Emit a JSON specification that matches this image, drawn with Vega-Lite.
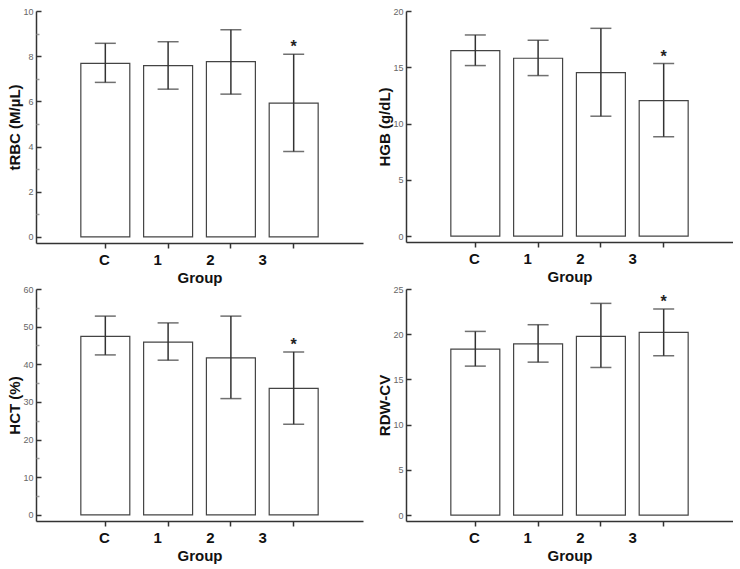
{
  "$schema": "https://vega.github.io/schema/vega-lite/v6.json",
  "background": "white",
  "padding": {"left": 7, "top": 7, "right": 0, "bottom": 5},
  "columns": 2,
  "spacing": {"column": 14, "row": 0},
  "datasets": {
    "p1": [
      {"group": "C", "mean": 7.68, "lo": 6.84, "hi": 8.57, "sig": ""},
      {"group": "1", "mean": 7.58, "lo": 6.54, "hi": 8.64, "sig": ""},
      {"group": "2", "mean": 7.76, "lo": 6.32, "hi": 9.17, "sig": ""},
      {"group": "3", "mean": 5.92, "lo": 3.78, "hi": 8.09, "sig": "*"}
    ],
    "p2": [
      {"group": "C", "mean": 16.48, "lo": 15.15, "hi": 17.87, "sig": ""},
      {"group": "1", "mean": 15.80, "lo": 14.26, "hi": 17.40, "sig": ""},
      {"group": "2", "mean": 14.53, "lo": 10.65, "hi": 18.46, "sig": ""},
      {"group": "3", "mean": 12.04, "lo": 8.82, "hi": 15.33, "sig": "*"}
    ],
    "p3": [
      {"group": "C", "mean": 47.4, "lo": 42.5, "hi": 52.8, "sig": ""},
      {"group": "1", "mean": 45.9, "lo": 41.1, "hi": 51.0, "sig": ""},
      {"group": "2", "mean": 41.7, "lo": 30.9, "hi": 52.8, "sig": ""},
      {"group": "3", "mean": 33.6, "lo": 24.1, "hi": 43.3, "sig": "*"}
    ],
    "p4": [
      {"group": "C", "mean": 18.35, "lo": 16.47, "hi": 20.31, "sig": ""},
      {"group": "1", "mean": 18.94, "lo": 16.91, "hi": 21.05, "sig": ""},
      {"group": "2", "mean": 19.76, "lo": 16.32, "hi": 23.41, "sig": ""},
      {"group": "3", "mean": 20.2, "lo": 17.61, "hi": 22.78, "sig": "*"}
    ]
  },
  "config": {
    "font": "Liberation Sans",
    "view": {"stroke": null},
    "axis": {
      "grid": false,
      "domainColor": "#333333",
      "domainWidth": 1.5,
      "tickColor": "#333333",
      "tickWidth": 1.5,
      "titleFont": "Liberation Sans",
      "titleFontWeight": "bold",
      "titleFontSize": 15,
      "titleColor": "#111111"
    },
    "axisX": {
      "labelAngle": 0,
      "labelFontSize": 15,
      "labelFontWeight": "bold",
      "labelColor": "#111111",
      "labelPadding": 4,
      "tickSize": 5,
      "titlePadding": 3,
      "labelOffset": {
        "condition": [
          {"test": "datum.value == '1'", "value": -10.5},
          {"test": "datum.value == '2'", "value": -20.5},
          {"test": "datum.value == '3'", "value": -31}
        ],
        "value": -1
      }
    },
    "axisY": {
      "labelFontSize": 9,
      "labelColor": "#666666",
      "labelPadding": 3,
      "labelOverlap": false,
      "titlePadding": 0
    },
    "scale": {"bandPaddingInner": 0.22, "bandPaddingOuter": 0.714}
  },
  "concat": [
    {
      "width": 327, "height": 232,
      "data": {"name": "p1"},
      "resolve": {"axis": {"y": "independent"}},
      "encoding": {
        "x": {"field": "group", "type": "nominal", "sort": ["C", "1", "2", "3"], "title": "Group"}
      },
      "layer": [
        {
          "mark": {"type": "bar", "fill": "white", "stroke": "#444444", "strokeWidth": 1.2},
          "encoding": {
            "y": {"field": "mean", "type": "quantitative", "title": "tRBC (M/µL)",
              "scale": {"domain": [-0.27, 10], "nice": false, "zero": false},
              "axis": {"orient": "left", "values": [0, 2, 4, 6, 8, 10], "ticks": false}
            },
            "y2": {"datum": 0}
          }
        },
        {"mark": {"type": "rule", "stroke": "#333333", "strokeWidth": 1.5}, "encoding": {
          "y": {"field": "lo", "type": "quantitative", "axis": {"orient": "left", "offset": -5, "values": [0, 2, 4, 6, 8, 10], "tickSize": 5, "domain": false, "labels": false, "title": null}},
          "y2": {"field": "hi"}}},
        {"mark": {"type": "tick", "color": "#333333", "thickness": 1.5, "size": 21, "orient": "horizontal"}, "encoding": {
          "y": {"field": "lo", "type": "quantitative", "axis": {"orient": "left", "offset": -3, "values": [1, 3, 5, 7, 9], "tickSize": 3, "tickColor": "#999999", "domain": false, "labels": false, "title": null}}}},
        {"mark": {"type": "tick", "color": "#333333", "thickness": 1.5, "size": 21, "orient": "horizontal"}, "encoding": {"y": {"field": "hi", "type": "quantitative", "axis": null}}},
        {"mark": {"type": "text", "fontSize": 16, "fontWeight": "bold", "color": "#222222", "baseline": "alphabetic", "dy": -2}, "encoding": {"y": {"field": "hi", "type": "quantitative", "axis": null}, "text": {"field": "sig"}}}
      ]
    },
    {
      "width": 327, "height": 231,
      "data": {"name": "p2"},
      "resolve": {"axis": {"y": "independent"}},
      "encoding": {
        "x": {"field": "group", "type": "nominal", "sort": ["C", "1", "2", "3"], "title": "Group"}
      },
      "layer": [
        {
          "mark": {"type": "bar", "fill": "white", "stroke": "#444444", "strokeWidth": 1.2},
          "encoding": {
            "y": {"field": "mean", "type": "quantitative", "title": "HGB (g/dL)",
              "scale": {"domain": [-0.53, 20], "nice": false, "zero": false},
              "axis": {"orient": "left", "values": [0, 5, 10, 15, 20], "ticks": false}
            },
            "y2": {"datum": 0}
          }
        },
        {"mark": {"type": "rule", "stroke": "#333333", "strokeWidth": 1.5}, "encoding": {
          "y": {"field": "lo", "type": "quantitative", "axis": {"orient": "left", "offset": -5, "values": [0, 5, 10, 15, 20], "tickSize": 5, "domain": false, "labels": false, "title": null}},
          "y2": {"field": "hi"}}},
        {"mark": {"type": "tick", "color": "#333333", "thickness": 1.5, "size": 21, "orient": "horizontal"}, "encoding": {"y": {"field": "lo", "type": "quantitative", "axis": null}}},
        {"mark": {"type": "tick", "color": "#333333", "thickness": 1.5, "size": 21, "orient": "horizontal"}, "encoding": {"y": {"field": "hi", "type": "quantitative", "axis": null}}},
        {"mark": {"type": "text", "fontSize": 16, "fontWeight": "bold", "color": "#222222", "baseline": "alphabetic", "dy": -2}, "encoding": {"y": {"field": "hi", "type": "quantitative", "axis": null}, "text": {"field": "sig"}}}
      ]
    },
    {
      "width": 327, "height": 232,
      "data": {"name": "p3"},
      "resolve": {"axis": {"y": "independent"}},
      "encoding": {
        "x": {"field": "group", "type": "nominal", "sort": ["C", "1", "2", "3"], "title": "Group"}
      },
      "layer": [
        {
          "mark": {"type": "bar", "fill": "white", "stroke": "#444444", "strokeWidth": 1.2},
          "encoding": {
            "y": {"field": "mean", "type": "quantitative", "title": "HCT (%)",
              "scale": {"domain": [-1.6, 60], "nice": false, "zero": false},
              "axis": {"orient": "left", "values": [0, 10, 20, 30, 40, 50, 60], "ticks": false}
            },
            "y2": {"datum": 0}
          }
        },
        {"mark": {"type": "rule", "stroke": "#333333", "strokeWidth": 1.5}, "encoding": {
          "y": {"field": "lo", "type": "quantitative", "axis": {"orient": "left", "offset": -5, "values": [0, 10, 20, 30, 40, 50, 60], "tickSize": 5, "domain": false, "labels": false, "title": null}},
          "y2": {"field": "hi"}}},
        {"mark": {"type": "tick", "color": "#333333", "thickness": 1.5, "size": 21, "orient": "horizontal"}, "encoding": {
          "y": {"field": "lo", "type": "quantitative", "axis": {"orient": "left", "offset": -3, "values": [5, 15, 25, 35, 45, 55], "tickSize": 3, "tickColor": "#999999", "domain": false, "labels": false, "title": null}}}},
        {"mark": {"type": "tick", "color": "#333333", "thickness": 1.5, "size": 21, "orient": "horizontal"}, "encoding": {"y": {"field": "hi", "type": "quantitative", "axis": null}}},
        {"mark": {"type": "text", "fontSize": 16, "fontWeight": "bold", "color": "#222222", "baseline": "alphabetic", "dy": -2}, "encoding": {"y": {"field": "hi", "type": "quantitative", "axis": null}, "text": {"field": "sig"}}}
      ]
    },
    {
      "width": 327, "height": 232,
      "data": {"name": "p4"},
      "resolve": {"axis": {"y": "independent"}},
      "encoding": {
        "x": {"field": "group", "type": "nominal", "sort": ["C", "1", "2", "3"], "title": "Group"}
      },
      "layer": [
        {
          "mark": {"type": "bar", "fill": "white", "stroke": "#444444", "strokeWidth": 1.2},
          "encoding": {
            "y": {"field": "mean", "type": "quantitative", "title": "RDW-CV",
              "scale": {"domain": [-0.66, 25], "nice": false, "zero": false},
              "axis": {"orient": "left", "values": [0, 5, 10, 15, 20, 25], "ticks": false}
            },
            "y2": {"datum": 0}
          }
        },
        {"mark": {"type": "rule", "stroke": "#333333", "strokeWidth": 1.5}, "encoding": {
          "y": {"field": "lo", "type": "quantitative", "axis": {"orient": "left", "offset": -5, "values": [0, 5, 10, 15, 20, 25], "tickSize": 5, "domain": false, "labels": false, "title": null}},
          "y2": {"field": "hi"}}},
        {"mark": {"type": "tick", "color": "#333333", "thickness": 1.5, "size": 21, "orient": "horizontal"}, "encoding": {"y": {"field": "lo", "type": "quantitative", "axis": null}}},
        {"mark": {"type": "tick", "color": "#333333", "thickness": 1.5, "size": 21, "orient": "horizontal"}, "encoding": {"y": {"field": "hi", "type": "quantitative", "axis": null}}},
        {"mark": {"type": "text", "fontSize": 16, "fontWeight": "bold", "color": "#222222", "baseline": "alphabetic", "dy": -2}, "encoding": {"y": {"field": "hi", "type": "quantitative", "axis": null}, "text": {"field": "sig"}}}
      ]
    }
  ]
}
